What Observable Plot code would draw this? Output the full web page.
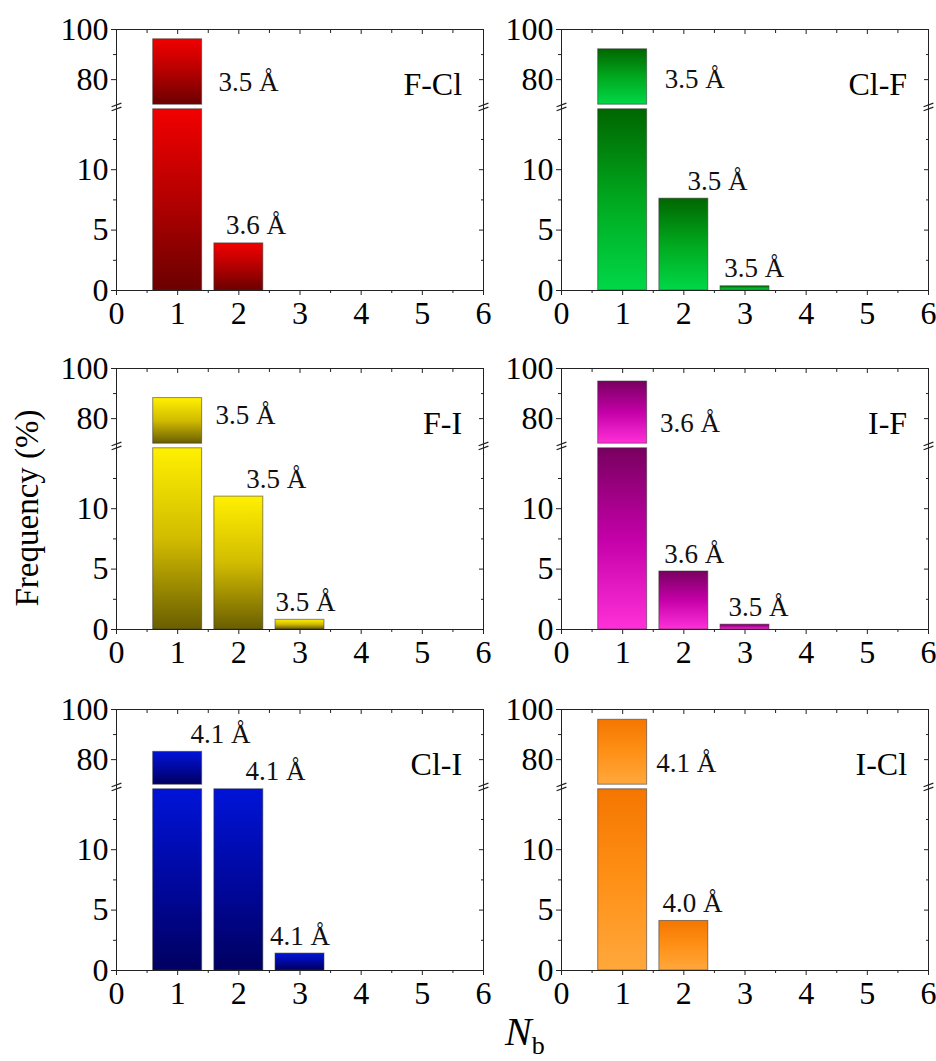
<!DOCTYPE html>
<html><head><meta charset="utf-8">
<script src="https://cdn.jsdelivr.net/npm/d3@7"></script>
<script src="https://cdn.jsdelivr.net/npm/@observablehq/plot@0.6"></script>
<style>
html,body{margin:0;padding:0;background:#fff;overflow:hidden}
#fig{position:relative;width:936px;height:1061px;font-family:"Liberation Serif","Times New Roman",serif;color:#000}
#fig svg{position:absolute;overflow:visible}
.ytitle{position:absolute;left:27px;top:508px;transform:translate(-50%,-50%) rotate(-90deg);white-space:nowrap;font-family:"Liberation Serif",serif;font-size:33px;line-height:1}
.xtitle{position:absolute;left:505px;top:1012px;font-family:"Liberation Serif",serif;font-size:40px;line-height:1;white-space:nowrap}
.xtitle i{font-style:italic}
.xtitle span{position:relative;top:9px;font-size:26px}
</style></head><body><div id="fig"></div>
<script>
// ---- data ----
const nb = [1, 2, 3];
const pairs = ["F-Cl", "Cl-F", "F-I", "I-F", "Cl-I", "I-Cl"];
const freqFCl = [96.1, 3.9, 0];
const freqClF = [92.1, 7.6, 0.35];
const freqFI  = [88.2, 11.0, 0.8];
const freqIF  = [94.8, 4.8, 0.4];
const freqClI = [83.1, 15.5, 1.4];
const freqICl = [95.9, 4.1, 0];
const distFCl = ["3.5 Å", "3.6 Å"];
const distClF = ["3.5 Å", "3.5 Å", "3.5 Å"];
const distFI  = ["3.5 Å", "3.5 Å", "3.5 Å"];
const distIF  = ["3.6 Å", "3.6 Å", "3.5 Å"];
const distClI = ["4.1 Å", "4.1 Å", "4.1 Å"];
const distICl = ["4.1 Å", "4.0 Å"];
// annotation anchors (x in Nb units; y in % for labels beside the first bar, null = above the bar)
const labXFCl = [2.16, 2.28];
const labXClF = [2.18, 2.55, 3.15];
const labXFI  = [2.11, 2.61, 3.09];
const labXIF  = [2.10, 2.17, 3.22];
const labXClI = [1.70, 2.60, 3.00];
const labXICl = [2.04, 2.14];
const labYFCl = [75.6, null];
const labYClF = [76.8, null, null];
const labYFI  = [78.0, null, null];
const labYIF  = [74.8, null, null];
const labYClI = [null, null, null];
const labYICl = [75.2, null];
const xMajor = [0, 1, 2, 3, 4, 5, 6];
const xMinor = [0.5, 1.5, 2.5, 3.5, 4.5, 5.5];
const yMajor = [0, 5, 10, 80, 100];
const yMinor = [2.5, 7.5, 12.5, 90];
const lowerMax = 15, upperMin = 70, upperMax = 100;

// ---- styles ----
const gradients = [
  ["#f20000", "#b40000", "#6c0000"],
  ["#006600", "#00a81e", "#00d848"],
  ["#fff000", "#d2bc00", "#6a5e00"],
  ["#780060", "#c400a8", "#ff30d8"],
  ["#0014d8", "#0008a0", "#000060"],
  ["#f47600", "#ff9016", "#ffa83c"]
];
const freqs = [freqFCl, freqClF, freqFI, freqIF, freqClI, freqICl];
const dists = [distFCl, distClF, distFI, distIF, distClI, distICl];
const labXs = [labXFCl, labXClF, labXFI, labXIF, labXClI, labXICl];
const labYs = [labYFCl, labYClF, labYFI, labYIF, labYClI, labYICl];

// broken axis: lower 0..15 linear, upper 70..100 compressed
const gap = 0.38, k = 2.5 / 12.05;
const T = v => v <= lowerMax ? v : v >= upperMin ? lowerMax + gap + (v - upperMin) * k
                : lowerMax + gap * (v - lowerMax) / (upperMin - lowerMax);
const tBreak = lowerMax + gap / 2;
const yLab = new Map(yMajor.map(v => [T(v), String(v)]));

const colLeft = [116, 561], rowTop = [29, 368, 709];
const W = 367, H = 261, mL = 70, mR = 16, mT = 14, mB = 46;
const fig = document.getElementById("fig");
const FONT = "'Liberation Serif','Times New Roman',serif";

pairs.forEach((name, i) => {
  const freq = freqs[i];
  const bars = [];
  freq.forEach((v, j) => {
    if (v <= 0) return;
    bars.push({n: nb[j], lo: 0, hi: Math.min(v, lowerMax)});
    if (v > upperMin) bars.push({n: nb[j], lo: upperMin, hi: v});
  });
  const labels = dists[i].map((t, j) => {
    const v = freq[j];
    const top = v > upperMin ? v : Math.min(v, lowerMax);
    const side = labYs[i][j] != null;
    return {text: t, x: labXs[i][j], y: side ? labYs[i][j] : top, side};
  });
  const gid = "grad" + i;
  const defs = () => {
    const ns = "http://www.w3.org/2000/svg";
    const d = document.createElementNS(ns, "defs");
    const g = document.createElementNS(ns, "linearGradient");
    g.setAttribute("id", gid);
    g.setAttribute("x1", "0"); g.setAttribute("y1", "0");
    g.setAttribute("x2", "0"); g.setAttribute("y2", "1");
    gradients[i].forEach((c, s) => {
      const st = document.createElementNS(ns, "stop");
      st.setAttribute("offset", String(s / (gradients[i].length - 1)));
      st.setAttribute("stop-color", c);
      g.appendChild(st);
    });
    d.appendChild(g);
    return d;
  };
  const brk = [0, 6].map(xb => ({xb}));
  const brkMark = dy => Plot.link(brk, {
    x1: d => d.xb - 0.08, x2: d => d.xb + 0.08,
    y1: d => tBreak - 0.15, y2: d => tBreak + 0.15,
    stroke: "#222", strokeWidth: 1.2, dy
  });
  const svg = Plot.plot({
    width: mL + W + mR, height: mT + H + mB,
    marginLeft: mL, marginRight: mR, marginTop: mT, marginBottom: mB,
    x: {domain: [0, 6], label: null},
    y: {domain: [0, T(upperMax)], label: null},
    style: {fontFamily: FONT, fontSize: "32px", color: "#000", background: "transparent", overflow: "visible"},
    marks: [
      defs,
      Plot.rect(bars, {x1: d => d.n - 0.4, x2: d => d.n + 0.4, y1: d => T(d.lo), y2: d => T(d.hi),
        fill: `url(#${gid})`, stroke: "#333", strokeOpacity: 0.55, strokeWidth: 1}),
      Plot.frame({stroke: "#222", strokeWidth: 1}),
      Plot.axisY(yMajor.map(T), {anchor: "left", tickSize: 5, tickPadding: 3, tickFormat: t => yLab.get(t), fontSize: 32, fontFamily: FONT, stroke: "#222", label: null}),
      Plot.axisY(yMinor.map(T), {anchor: "left", tickSize: 3, tickFormat: () => "", stroke: "#222", label: null}),
      Plot.axisY(yMajor.map(T), {anchor: "right", tickSize: -5, tickFormat: () => "", stroke: "#222", label: null}),
      Plot.axisY(yMinor.map(T), {anchor: "right", tickSize: -3, tickFormat: () => "", stroke: "#222", label: null}),
      Plot.axisX(xMajor, {anchor: "bottom", tickSize: 5, tickPadding: 6, fontSize: 32, fontFamily: FONT, stroke: "#222", label: null}),
      Plot.axisX(xMinor, {anchor: "bottom", tickSize: 3, tickFormat: () => "", stroke: "#222", label: null}),
      Plot.axisX(xMajor, {anchor: "top", tickSize: -4, tickFormat: () => "", stroke: "#222", label: null}),
      Plot.axisX(xMinor, {anchor: "top", tickSize: -3, tickFormat: () => "", stroke: "#222", label: null}),
      brkMark(-2), brkMark(2),
      Plot.text(labels.filter(d => d.side), {x: "x", y: d => T(d.y), text: "text", textAnchor: "middle", lineAnchor: "bottom", fontSize: 27, fontFamily: FONT, fill: "#111"}),
      Plot.text(labels.filter(d => !d.side), {x: "x", y: d => T(d.y), text: "text", textAnchor: "middle", lineAnchor: "bottom", dy: -9, fontSize: 27, fontFamily: FONT, fill: "#111"}),
      Plot.text([name], {x: () => 5.65, y: () => T(74), text: d => d, textAnchor: "end", lineAnchor: "bottom", fontSize: 32, fontFamily: FONT, fill: "#000"})
    ]
  });
  svg.style.left = (colLeft[i % 2] - mL) + "px";
  svg.style.top = (rowTop[Math.floor(i / 2)] - mT) + "px";
  fig.appendChild(svg);
});

const yt = document.createElement("div");
yt.className = "ytitle"; yt.textContent = "Frequency (%)";
fig.appendChild(yt);
const xt = document.createElement("div");
xt.className = "xtitle"; xt.innerHTML = "<i>N</i><span>b</span>";
fig.appendChild(xt);
</script></body></html>
